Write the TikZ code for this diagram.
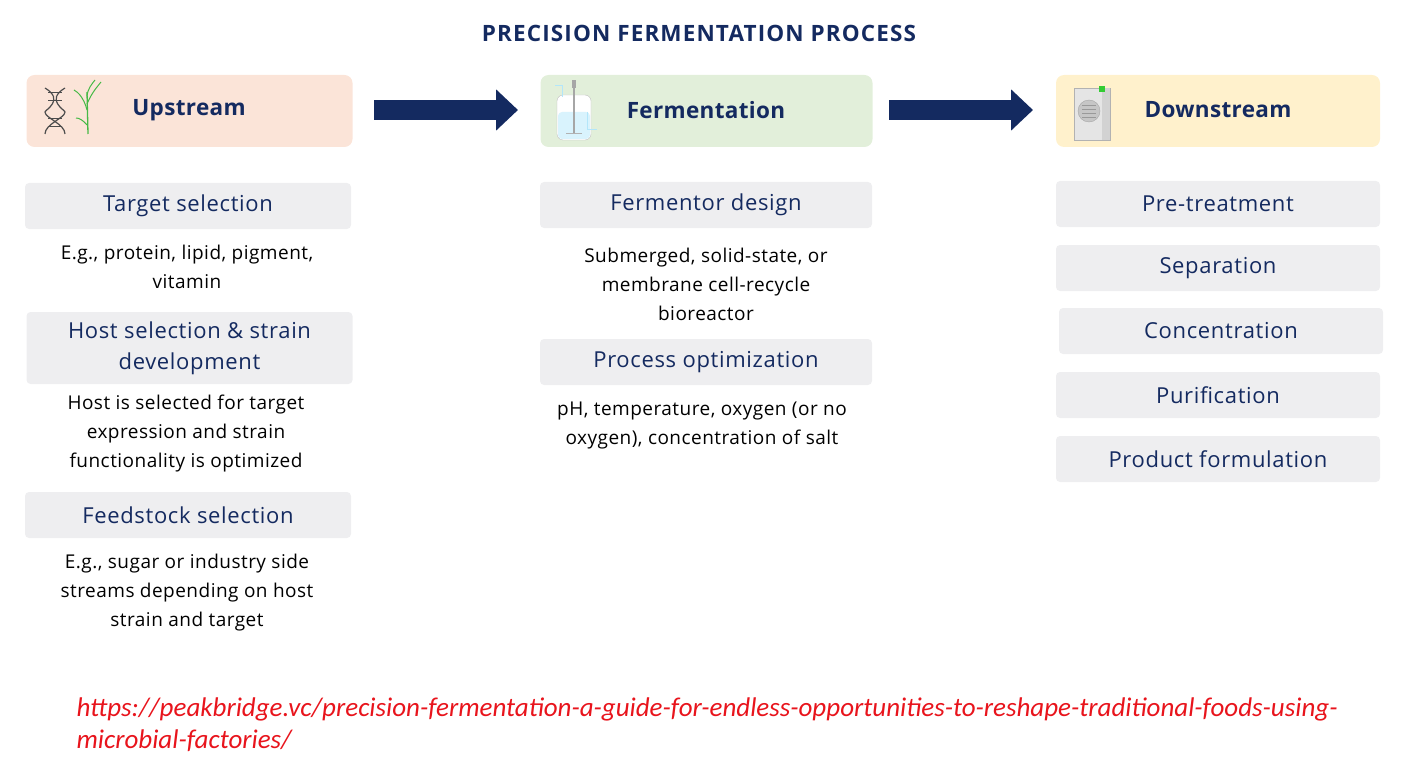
\documentclass[tikz,border=0pt]{standalone}
\usepackage{fontspec}
\setmainfont{Open Sans}
\newfontfamily\urlfont{Carlito}
\begin{document}
\begin{tikzpicture}[x=1pt,y=-1pt,
  tfont/.style={font=\fontsize{22.5}{26}\selectfont\bfseries\addfontfeatures{LetterSpace=5},text=navy},
  hfont/.style={font=\fontsize{22.5}{26}\selectfont\bfseries\addfontfeatures{LetterSpace=1.5},text=navy},
  hdr/.style={rounded corners=8pt,minimum height=72pt,minimum width=326pt},
  gbox/.style={fill=boxgray,rounded corners=4pt,minimum height=46pt,minimum width=326pt,font=\fontsize{22}{31}\selectfont\addfontfeatures{LetterSpace=3},text=navy,align=center},
  body/.style={font=\fontsize{19}{29}\selectfont\addfontfeatures{LetterSpace=2.5},align=center,text=black},
  bigarrow/.style={-{Triangle[length=22pt,width=40pt]},line width=20pt,draw=navy}]
\usetikzlibrary{arrows.meta}
\definecolor{navy}{HTML}{142A60}
\definecolor{boxgray}{HTML}{EEEEF0}
\definecolor{upc}{HTML}{FBE4D8}
\definecolor{ferc}{HTML}{E2EFDA}
\definecolor{dwc}{HTML}{FFF1CC}
\definecolor{urlred}{HTML}{E8141C}
\useasboundingbox (0,0) rectangle (1405,770);
\node[tfont] (title) at (699,33) {PRECISION FERMENTATION PROCESS};
\node[hdr,fill=upc] (up) at (189.5,111) {};
\node[hfont] (upt) at (189,110) {Upstream};
\node[hdr,fill=ferc,minimum width=332pt] (fer) at (706.5,111) {};
\node[hfont] (fert) at (706,110) {Fermentation};
\node[hdr,fill=dwc,minimum width=324pt] (dw) at (1218,111) {};
\node[hfont] (dwt) at (1218,110) {Downstream};
\draw[gray!60!black,line width=1.2pt] (45,88) .. controls (65,100) and (45,110) .. (45,112) .. controls (45,118) and (65,124) .. (65,134);
\draw[gray!60!black,line width=1.2pt] (65,88) .. controls (45,100) and (65,110) .. (65,112) .. controls (65,118) and (45,124) .. (45,134);
\foreach \yy in {92,100,118,126} \draw[gray!60!black] (48,\yy) -- (62,\yy);
\draw[green!45!gray,line width=1.3pt] (88,134) -- (87,92);
\draw[green!45!gray,line width=1pt] (87,110) .. controls (84,98) and (78,92) .. (74,90);
\draw[green!45!gray,line width=1pt] (87,104) .. controls (92,92) and (98,86) .. (101,82);
\draw[green!45!gray,line width=1pt] (87,96) .. controls (88,88) and (92,84) .. (95,80);
\draw[green!45!gray,line width=1pt] (87,125) .. controls (83,120) and (79,118) .. (76,118);
\draw[gray!50,fill=white,rounded corners=6pt] (557,95) rectangle (591,140);
\fill[cyan!15,rounded corners=4pt] (558,112) rectangle (590,139);
\draw[gray!70,line width=1.5pt] (574,84) -- (574,133);
\fill[gray!70] (572,80) rectangle (576,88);
\draw[gray!60] (566,133) -- (582,133);
\draw[cyan!30,line width=1pt] (555,86) -- (562,86) -- (562,97);
\draw[cyan!30,line width=1pt] (587,112) -- (587,130) -- (597,130);
\draw[gray!60,fill=gray!20] (1074,88) rectangle (1110,140);
\fill[gray!35] (1102,88) rectangle (1110,140);
\fill[green!60!gray] (1099,86) rectangle (1105,92);
\draw[gray!70,fill=gray!45] (1089,111) circle (11pt);
\foreach \yy in {105,109,113,117} \draw[gray!80] (1082,\yy) -- (1096,\yy);
\coordinate (a1s) at (374,110); \coordinate (a1e) at (518,110);
\coordinate (a2s) at (889,110); \coordinate (a2e) at (1033,110);
\draw[bigarrow] (a1s) -- (a1e);
\draw[bigarrow] (a2s) -- (a2e);
\node[gbox] (ts) at (188,206) {Target selection};
\node[body] (tst) at (187,267) {E.g., protein, lipid, pigment,\\vitamin};
\node[gbox,minimum height=72pt] (hs) at (189.5,348) {Host selection \& strain\\development};
\node[body] (hst) at (186,434) {Host is selected for target\\expression and strain\\functionality is optimized};
\node[gbox] (fs) at (188,515) {Feedstock selection};
\node[body] (fst) at (187,593) {E.g., sugar or industry side\\streams depending on host\\strain and target};
\node[gbox,minimum width=332pt] (fd) at (706,205) {Fermentor design};
\node[body] (fdt) at (706,284) {Submerged, solid-state, or\\membrane cell-recycle\\bioreactor};
\node[gbox,minimum width=332pt] (po) at (706,362) {Process optimization};
\node[body] (pot) at (702,425) {pH, temperature, oxygen (or no\\oxygen), concentration of salt};
\node[gbox,minimum width=324pt] (pt) at (1218,204) {Pre-treatment};
\node[gbox,minimum width=324pt] (sp) at (1218,268) {Separation};
\node[gbox,minimum width=324pt] (cc) at (1221,331) {Concentration};
\node[gbox,minimum width=324pt] (pu) at (1218,395) {Purification};
\node[gbox,minimum width=324pt] (pf) at (1218,459) {Product formulation};
\node[anchor=north west,align=left,text=urlred,font=\urlfont\itshape\fontsize{27}{32}\selectfont] (url) at (73,694) {https://peakbridge.vc/precision-fermentation-a-guide-for-endless-opportunities-to-reshape-traditional-foods-using-\\microbial-factories/};
\end{tikzpicture}
\end{document}
